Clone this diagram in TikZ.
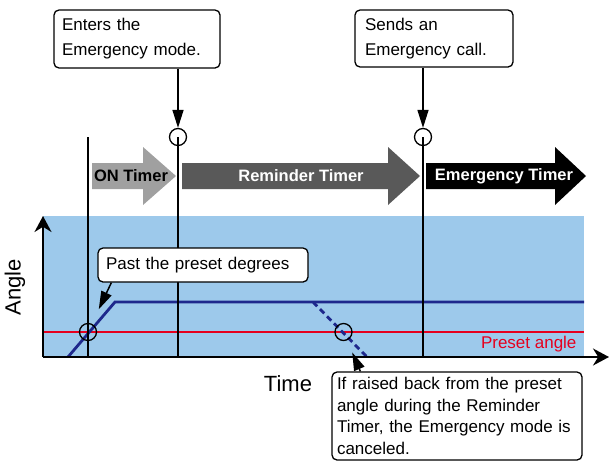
\documentclass[tikz,border=0pt]{standalone}
\usepackage{fontspec}
\setmainfont{Liberation Sans}
\usetikzlibrary{arrows.meta,positioning}
\definecolor{plotbg}{RGB}{157,201,235}
\definecolor{curveblue}{RGB}{30,40,140}
\definecolor{presetred}{RGB}{230,0,30}
\definecolor{ongray}{RGB}{160,160,160}
\definecolor{remgray}{RGB}{89,89,89}
\tikzset{
	callout/.style={draw, line width=1.3pt, rounded corners=5pt, fill=white, align=left, inner xsep=8pt, inner ysep=3pt, font=\fontsize{17}{25}\selectfont},
	pointer/.style={-{Triangle[length=18pt, width=11pt]}, line width=1.5pt},
	marker/.style={draw, circle, line width=1.3pt, minimum size=17pt, inner sep=0pt},
	timer/.style={font=\fontsize{16.5}{20}\selectfont\bfseries},
	axis/.style={-{Stealth[length=16pt, width=17pt]}, line width=2pt},
	eventline/.style={line width=1.5pt},
	curve/.style={curveblue, line width=2.8pt}
}
\begin{document}
\begin{tikzpicture}[x=1pt, y=-1pt]
	\useasboundingbox (0,0) rectangle (609,461);
	% plot area
	\fill[plotbg] (43,216) rectangle (584,357);
	\draw[presetred, line width=2.6pt] (43,332) -- (584,332);
	\draw[curve] (68,357) -- (115,302) -- (584,302);
	\draw[curve, dash pattern=on 6pt off 4pt] (313,302) -- (367,357);
	\node[anchor=east, text=presetred, font=\fontsize{17}{20}\selectfont] (presetlabel) at (580,344) {Preset angle};
	% timers
	\fill[ongray] (92,163) -- (143,163) -- (143,147) -- (176,176) -- (143,205) -- (143,189) -- (92,189) -- cycle;
	\fill[remgray] (182,163) -- (388,163) -- (388,147) -- (420,176) -- (388,205) -- (388,189) -- (182,189) -- cycle;
	\fill[black] (426,163) -- (555,163) -- (555,147) -- (586,176) -- (555,205) -- (555,189) -- (426,189) -- cycle;
	\node[timer] (ontimer) at (131,176) {ON Timer};
	\node[timer, text=white] (remindertimer) at (301,176) {Reminder Timer};
	\node[timer, text=white] (emergencytimer) at (504,176) {Emergency Timer};
	% event lines
	\node[marker] (enter) at (178,137) {};
	\node[marker] (call) at (423,137) {};
	\coordinate (pass) at (88,137);
	\coordinate (passend) at (88,357);
	\coordinate (enterend) at (178,357);
	\coordinate (callend) at (423,357);
	\draw[eventline] (pass) -- (passend);
	\draw[eventline] (enter.center) -- (enterend);
	\draw[eventline] (call.center) -- (callend);
	% axes
	\coordinate (origin) at (43,357);
	\coordinate (ytip) at (43,216);
	\coordinate (xtip) at (609,357);
	\draw[axis] (origin) -- (ytip);
	\draw[axis] (origin) -- (xtip);
	\node[rotate=90, font=\fontsize{22}{26}\selectfont] (anglelabel) at (15,287) {Angle};
	\node[font=\fontsize{22}{26}\selectfont] (timelabel) at (288,384) {Time};
	% crossings
	\node[marker] (crossup) at (88,332) {};
	\node[marker] (crossdown) at (343.5,332) {};
	% callouts
	\node[callout, text width=150pt, minimum height=58pt] (entersbox) at (137,39) {Enters the\\Emergency mode.};
	\node[callout, text width=138pt, inner xsep=10pt, minimum height=57pt] (sendsbox) at (434,38.5) {Sends an\\Emergency call.};
	\node[callout, text width=194pt, minimum height=34pt, font=\fontsize{17}{20}\selectfont] (pastbox) at (203,265) {Past the preset degrees};
	\node[callout, text width=240pt, inner xsep=5pt, minimum height=88pt, font=\fontsize{17}{21.7}\selectfont] (raisedbox) at (457,416) {If raised back from the preset\\angle during the Reminder\\Timer, the Emergency mode is\\canceled.};
	\draw[pointer] (entersbox.south -| enter) -- (enter.north);
	\draw[pointer] (sendsbox.south -| call) -- (call.north);
	\draw[pointer, shorten >=16pt] ([xshift=14pt]pastbox.south west) -- (crossup);
	\draw[pointer, shorten >=13pt] ([xshift=29pt]raisedbox.north west) -- (crossdown);
\end{tikzpicture}
\end{document}
